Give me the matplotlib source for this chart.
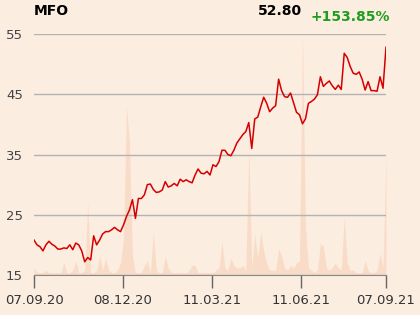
import matplotlib
matplotlib.use("Agg")
import matplotlib.pyplot as plt
import pandas as pd

ticker = "MFO"
last_price = "52.80"
change = "+153.85%"
start_date = "2020-09-07"
end_date = "2021-09-07"
tick_dates = ["2020-09-07", "2020-12-08", "2021-03-11", "2021-06-11", "2021-09-07"]
tick_labels = ["07.09.20", "08.12.20", "11.03.21", "11.06.21", "07.09.21"]
y_ticks = [15, 25, 35, 45, 55]

price = [20.8, 20.0, 19.7, 19.0, 20.0, 20.6, 20.1, 19.8, 19.3, 19.3,
         19.5, 19.4, 20.0, 19.2, 20.3, 20.0, 19.0, 17.2, 17.9, 17.5,
         21.5, 20.0, 20.8, 21.8, 22.2, 22.2, 22.5, 22.9, 22.5, 22.2,
         23.3, 24.7, 25.8, 27.5, 24.4, 27.7, 27.7, 28.3, 30.0, 30.1,
         29.2, 28.7, 28.8, 29.1, 30.5, 29.6, 29.8, 30.2, 29.8, 30.9,
         30.5, 30.8, 30.5, 30.3, 31.6, 32.6, 31.9, 31.8, 32.2, 31.6,
         33.3, 33.0, 33.8, 35.7, 35.7, 35.0, 34.8, 35.7, 36.9, 37.6,
         38.3, 38.8, 40.3, 36.0, 40.9, 41.2, 42.9, 44.5, 43.5, 42.1,
         42.7, 43.1, 47.5, 45.6, 44.6, 44.5, 45.2, 43.6, 42.0, 41.6,
         40.1, 40.9, 43.5, 43.8, 44.2, 44.9, 47.9, 46.3, 46.8, 47.2,
         46.4, 45.8, 46.5, 45.8, 51.8, 51.1, 49.6, 48.5, 48.3, 48.7,
         47.5, 45.7, 47.1, 45.6, 45.6, 45.5, 47.9, 46.0, 52.8]

volume = [3, 1, 1, 1, 2, 1, 1, 1, 1, 1,
          5, 1, 1, 2, 6, 1, 1, 2, 30, 1,
          1, 2, 8, 2, 7, 2, 1, 1, 2, 5,
          15, 70, 55, 8, 1, 1, 1, 4, 6, 1,
          18, 2, 1, 1, 8, 3, 1, 1, 1, 1,
          1, 1, 2, 4, 4, 1, 1, 1, 1, 1,
          1, 2, 3, 14, 3, 2, 7, 4, 3, 3,
          4, 2, 53, 3, 17, 7, 18, 10, 5, 2,
          2, 2, 11, 8, 3, 2, 4, 3, 5, 6,
          100, 20, 3, 2, 1, 2, 13, 12, 3, 2,
          3, 5, 3, 2, 24, 5, 2, 2, 1, 1,
          1, 6, 2, 1, 1, 2, 9, 3, 50]

bg = "#fcede1"
dates = pd.date_range(start_date, end_date, periods=len(price))

fig = plt.figure(figsize=(4.2, 3.15), dpi=100, facecolor=bg)
ax = fig.add_axes([34/420, 40/315, 352/420, 241/315])
ax.set_facecolor(bg)

axv = ax.twinx()
axv.fill_between(dates, 0, volume, color="#f7d6bc", alpha=0.7, linewidth=0)
axv.set_ylim(0, max(volume))
axv.axis("off")
ax.set_zorder(axv.get_zorder() + 1)
ax.patch.set_visible(False)
axv.patch.set_visible(False)

ax.plot(dates, price, color="#d40000", linewidth=1.1, zorder=3)

ax.set_ylim(15, 55)
ax.set_xlim(pd.Timestamp(start_date), pd.Timestamp(end_date))
ax.set_yticks(y_ticks)
ax.set_yticklabels([str(v) for v in y_ticks])
ax.set_xticks(pd.to_datetime(tick_dates))
ax.set_xticklabels(tick_labels)
ax.grid(axis="y", color="#b3b3b3", linewidth=1.0)
ax.set_axisbelow(True)
for s in ["top", "right", "left"]:
    ax.spines[s].set_visible(False)
ax.spines["bottom"].set_color("#888888")
ax.tick_params(axis="y", length=0, pad=8, labelsize=9.5, labelcolor="#444444")
ax.tick_params(axis="x", length=9, width=1, color="#666666", pad=5,
               labelsize=9.5, labelcolor="#333333")

fig.text(34/420, 1 - 15/315, ticker, fontsize=10, fontweight="bold", color="black")
fig.text(302/420, 1 - 15/315, last_price, fontsize=10, fontweight="bold",
         color="black", ha="right")
fig.text(311/420, 1 - 21/315, change, fontsize=10, fontweight="bold",
         color="#1e9e1e")

fig.savefig("out.png", dpi=100, facecolor=bg)
